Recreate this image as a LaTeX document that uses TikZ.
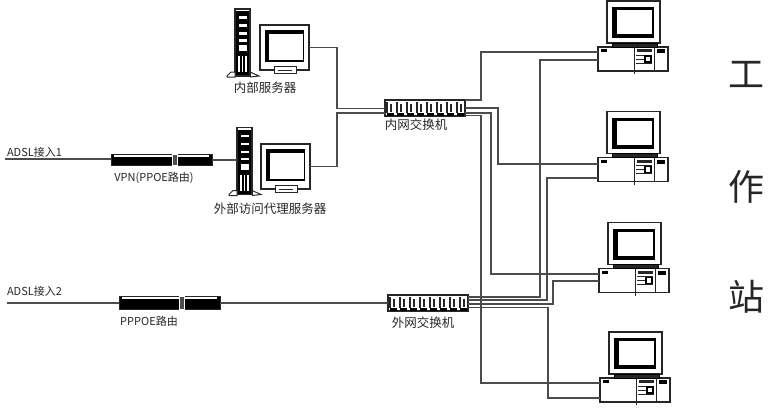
\documentclass[tikz,border=0pt]{standalone}
\usepackage{fontspec}
\newfontfamily\cjk{Noto Sans CJK SC}
\usetikzlibrary{calc}
\definecolor{linegray}{gray}{0.3}
\definecolor{inkgray}{gray}{0.15}

\tikzset{
  pics/towerparts/.style={code={
    \fill[black] (1,2) rectangle (14,66);
    \foreach \y in {7,15,23,30} {\fill[white] (3.5,\y) rectangle (11.5,\y+2.5);}
    \fill[white] (3.5,36) rectangle (11.5,42);
    \foreach \x in {4,7.5,11} {\fill[white] (\x-.7,47) rectangle (\x+.7,63);}
    \draw[line width=1pt,draw=inkgray,fill=white] (-8,67) -- (-4,63) -- (0,63) -- (0,68) -- (-8,68) -- cycle;
    \draw[line width=1pt,draw=inkgray] (15,63) -- (24,67) -- (15,68);
  }},
  pics/screenparts/.style={code={
    \fill[black] (5,5) rectangle (44,37);
    \fill[white] (8.5,9) rectangle (42.5,35);
    \draw[line width=1pt,draw=inkgray,fill=white] (14,41) rectangle (36,48);
    \draw[line width=1pt,draw=inkgray] (18,45) -- (32,45);
  }},
  pics/deskparts/.style={code={
    \draw[line width=1.2pt,draw=inkgray,fill=white] (9,-46) rectangle (62,-4);
    \fill[black] (14,-40) rectangle (56,-9);
    \fill[white] (18.5,-37) rectangle (54,-13);
    \draw[line width=1pt,fill=inkgray] (14,-4) rectangle (59,0);
    \fill[black] (3,2) rectangle (9,5);
    \draw[line width=1pt,draw=inkgray] (36,0) -- (36,24);
    \draw[line width=1pt,draw=inkgray] (56,0) -- (56,24);
    \fill[inkgray] (39,2) rectangle (54,5);
    \foreach \y in {8,12,16} {\draw[line width=.9pt,draw=inkgray] (38,\y) -- (54,\y);}
    \draw[line width=1.2pt,draw=black,fill=white] (47,9) rectangle (53,15);
    \fill[black] (59,2) rectangle (67,6);
    \draw[line width=1pt,draw=inkgray] (36,24) -- (36,27);
  }},
  pics/routerparts/.style={code={
    \fill[white] (3,.8) rectangle (98,2.4);
    \draw[line width=.8pt,draw=white,fill=linegray] (#1,0) rectangle (#1+5,\pgfkeysvalueof{/tikz/routerh});
  }},
  routerh/.initial=11,
  pics/switchparts/.style={code={
    \foreach \x in {2,12,22,32,42,52,62,72} {
      \draw[line width=1.1pt,draw=inkgray] (\x,2) -- (\x,13) (\x+4,4) -- (\x+4,12);
      \fill[black] (\x,12.5) rectangle (\x+7,15.5);
    }
  }}
}

\begin{document}
\begin{tikzpicture}[x=1pt,y=-1pt,
  every node/.style={inner sep=0pt,outer sep=0pt},
  link/.style={line width=1.3pt,draw=linegray},
  towerbox/.style={draw=inkgray,line width=1.2pt,fill=white,minimum width=15pt,minimum height=67pt},
  screenbox/.style={draw=inkgray,line width=1.3pt,fill=white,minimum width=49pt,minimum height=45pt},
  deskbox/.style={draw=inkgray,line width=1.2pt,fill=white,minimum width=70pt,minimum height=24pt},
  routerbox/.style={draw=inkgray,line width=.8pt,fill=black,minimum width=101pt,minimum height=11pt},
  switchbox/.style={draw=inkgray,line width=1.2pt,fill=white,minimum width=80pt,minimum height=16pt},
  tag/.style={font=\cjk\fontsize{11}{11}\selectfont,text=inkgray},
  widetag/.style={font=\cjk\fontsize{12.5}{12.5}\selectfont,text=inkgray},
  bigtag/.style={font=\cjk\fontsize{36}{36}\selectfont,text=inkgray}]
  \useasboundingbox (0,0) rectangle (772,408);

  % servers
  \node[towerbox] (tower1) at (242.5,42.5) {};
  \node[screenbox] (screen1) at (284.5,47.5) {};
  \node[towerbox] (tower2) at (244.5,161) {};
  \node[screenbox] (screen2) at (285.5,166.5) {};
  \pic at (tower1.north west) {towerparts};
  \pic at (tower2.north west) {towerparts};
  \pic at (screen1.north west) {screenparts};
  \pic at (screen2.north west) {screenparts};

  % routers and switches
  \node[routerbox] (router1) at (161.5,160) {};
  \node[routerbox,minimum height=13pt] (router2) at (169.5,303) {};
  \pic at (router1.north west) {routerparts=61};
  \pic[routerh=13] at (router2.north west) {routerparts=60};
  \node[switchbox] (switch1) at (425,108) {};
  \node[switchbox] (switch2) at (428,303) {};
  \pic at (switch1.north west) {switchparts};
  \pic at (switch2.north west) {switchparts};

  % workstations
  \foreach \n/\x/\y in {1/633/59,2/633/169.5,3/634/280.5,4/635/390}
    \node[deskbox] (desk\n) at (\x,\y) {};
  \foreach \n in {1,2,3,4}
    \pic at (desk\n.north west) {deskparts};

  % ends of the two lines
  \coordinate (line1) at (5,159);
  \coordinate (line2) at (7,303);

  \draw[link] (line1) -- (router1.west |- line1);
  \draw[link] (router1.east) -- (tower2.west |- router1.east);
  \draw[link] (line2) -- (router2.west);
  \draw[link] (router2.east) -- (switch2.west);
  \draw[link] (screen1.east) -- ++(28,0) |- ([yshift=-.5pt]switch1.west);
  \draw[link] (screen2.east) -- ++(27,0) |- ([yshift=-5pt]switch1.west);

  % inner switch to workstations
  \draw[link] ([yshift=8pt]switch1.east) -- ++(16,0) |- ([yshift=7pt]desk1.west);
  \draw[link] (switch1.east) -- ++(33,0) |- ([yshift=5.5pt]desk2.west);
  \draw[link] ([yshift=-5pt]switch1.east) -- ++(26,0) |- ([yshift=6.5pt]desk3.west);
  \draw[link] ([yshift=-7.5pt]switch1.east) -- ++(16,0) |- ([yshift=7pt]desk4.west);

  % outer switch to workstations
  \draw[link] ([yshift=6pt]switch2.east) -- ++(72,0) |- ([yshift=-1pt]desk1.west);
  \draw[link] ([yshift=3pt]switch2.east) -- ++(79,0) |- ([yshift=-8.5pt]desk2.west);
  \draw[link] ([yshift=-1pt]switch2.east) -- ++(85,0) |- ([yshift=-.5pt]desk3.west);
  \draw[link] ([yshift=-4.5pt]switch2.east) -- ++(80,0) |- ([yshift=-8pt]desk4.west);

  % labels
  \node[tag,anchor=west] (adsl1) at (7,152) {ADSL接入1};
  \node[tag,anchor=west] (adsl2) at (7,291) {ADSL接入2};
  \node[tag] (vpnlabel) at (154,178) {VPN(PPOE路由)};
  \node[tag] (pppoelabel) at (149,321) {PPPOE路由};
  \node[widetag] (innerlabel) at (265,88) {内部服务器};
  \node[widetag] (proxylabel) at (270,209) {外部访问代理服务器};
  \node[widetag] (sw1label) at (416,125) {内网交换机};
  \node[widetag] (sw2label) at (423,323) {外网交换机};
  \node[bigtag] (gong) at (746,74) {工};
  \node[bigtag] (zuo) at (746,187) {作};
  \node[bigtag] (zhan) at (746,297) {站};
\end{tikzpicture}
\end{document}
